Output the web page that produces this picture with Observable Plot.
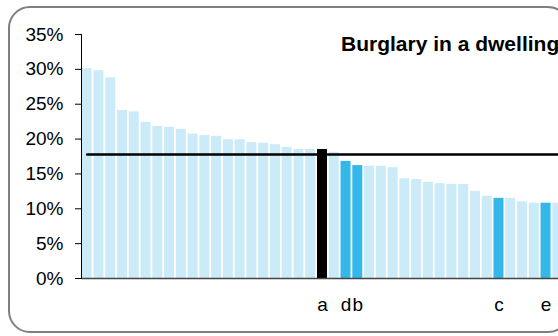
<!DOCTYPE html>
<html>
<head>
<meta charset="utf-8">
<script src="https://cdn.jsdelivr.net/npm/d3@7"></script>
<script src="https://cdn.jsdelivr.net/npm/@observablehq/plot@0.6"></script>
<style>
  html, body { margin: 0; padding: 0; background: #fff; }
  #wrap { position: relative; width: 558px; height: 336px; overflow: hidden; font-family: "Liberation Sans", Arial, sans-serif; }
  #border { position: absolute; left: 8px; top: 6px; width: 562px; height: 327px; box-sizing: border-box; border: 2px solid #7f7f7f; border-radius: 22px; }
  #chart { position: absolute; left: 0; top: 0; width: 575px; }
  #chart svg { max-width: none !important; }
  #title { position: absolute; left: 341px; top: 33px; font-size: 21px; line-height: 1; font-weight: bold; white-space: nowrap; color: #000; }
</style>
</head>
<body>
<div id="wrap">
  <div id="border"></div>
  <div id="chart"></div>
  <div id="title"></div>
</div>
<script>
const title = "Burglary in a dwelling";
const values = [30.1, 29.8, 28.8, 24.1, 23.9, 22.4, 21.8, 21.7, 21.4, 20.7,
                 20.5, 20.4, 19.9, 19.9, 19.5, 19.4, 19.2, 18.8, 18.5, 18.5,
                 18.5, 18.1, 16.8, 16.2, 16.1, 16.1, 15.9, 14.3, 14.2, 13.8,
                 13.6, 13.5, 13.5, 12.5, 11.8, 11.5, 11.5, 11.0, 10.8, 10.8,
                 10.8];
const kinds = ["o","o","o","o","o","o","o","o","o","o",
               "o","o","o","o","o","o","o","o","o","o",
               "a","o","h","h","o","o","o","o","o","o",
               "o","o","o","o","o","h","o","o","o","h",
               "o"];
const tickLabels = ["","","","","","","","","","",
                    "","","","","","","","","","",
                    "a","","d","b","","","","","","",
                    "","","","","","c","","","","e",
                    ""];
const benchmark = 17.8;
const yTicks = [0, 5, 10, 15, 20, 25, 30, 35];

document.getElementById("title").textContent = title;

const data = values.map((v, i) => ({i, v, kind: kinds[i], label: tickLabels[i], bench: benchmark}));
const labelTicks = data.filter(d => d.label !== "").map(d => d.i);

const chart = Plot.plot({
  width: 575,
  height: 336,
  marginLeft: 81,
  marginRight: 12,
  marginTop: 34,
  marginBottom: 58,
  style: {fontFamily: "'Liberation Sans', Arial, sans-serif", fontSize: "19px", color: "#000", background: "transparent", overflow: "visible", maxWidth: "none"},
  x: {type: "band", domain: data.map(d => d.i), paddingInner: 0.15, paddingOuter: 0.06, axis: null, label: null},
  y: {domain: [0, 35], axis: null, label: null},
  color: {domain: ["o", "h", "a"], range: ["#cbebf8", "#33b8e9", "#000000"]},
  marks: [
    Plot.barY(data, {x: "i", y: "v", fill: "kind"}),
    Plot.ruleY([0], {stroke: "#444", strokeWidth: 1.5}),
    Plot.lineY(data, {x: "i", y: "bench", stroke: "#000", strokeWidth: 2.5}),
    Plot.axisY({ticks: yTicks, tickFormat: d => d + "%", tickSize: 6, tickPadding: 12, stroke: "#000", fontSize: 19, label: null}),
    Plot.frame({anchor: "left", stroke: "#000"}),
    Plot.axisX({ticks: labelTicks, tickFormat: i => tickLabels[i], tickSize: 0, tickPadding: 19, fontSize: 19, label: null})
  ]
});
document.getElementById("chart").appendChild(chart);
</script>
</body>
</html>
